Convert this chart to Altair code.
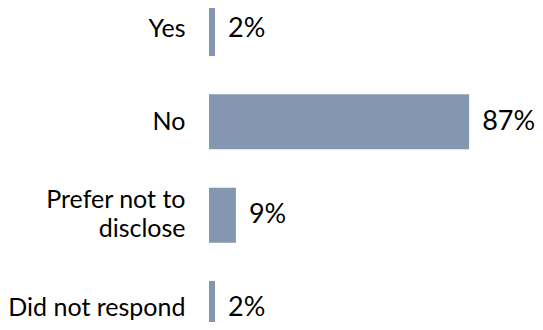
import altair as alt
import pandas as pd

categories = ["Yes", "No", "Prefer not to|disclose", "Did not respond"]
values = [2, 87, 9, 2]
value_labels = ["2%", "87%", "9%", "2%"]

df = pd.DataFrame({"cat": categories, "val": values, "lbl": value_labels})

BAR = "#8497B0"
FONT = "Lato"

y_enc = alt.Y(
    "cat:N",
    sort=categories,
    scale=alt.Scale(range=[-7, 328], paddingInner=0.41, paddingOuter=0),
    axis=alt.Axis(
        title=None, domain=False, ticks=False, labelPadding=24,
        labelFontSize=25, labelFont=FONT, labelColor="#000000",
        labelExpr="split(datum.label, '|')", labelLineHeight=29,
        labelLimit=300,
        labelOffset={"condition": {"test": "indexof(datum.value, '|') >= 0", "value": -15}, "value": 0},
    ),
)
x_enc = alt.X("val:Q", scale=alt.Scale(domain=[0, 100]), axis=None)

bars = alt.Chart(df).mark_bar(color=BAR).encode(x=x_enc, y=y_enc)
text = alt.Chart(df).mark_text(
    align="left", baseline="middle", dx=13, fontSize=27, font=FONT, color="#000000"
).encode(x=x_enc, y=y_enc, text="lbl:N")

chart = (
    alt.layer(bars, text)
    .properties(
        width=299, height=314,
        autosize=alt.AutoSizeParams(type="none"),
        padding={"left": 201, "top": 0, "right": 27, "bottom": 0},
    )
    .configure_view(stroke=None)
)

chart.save("out.html", embed_options={"renderer": "svg", "actions": False})
